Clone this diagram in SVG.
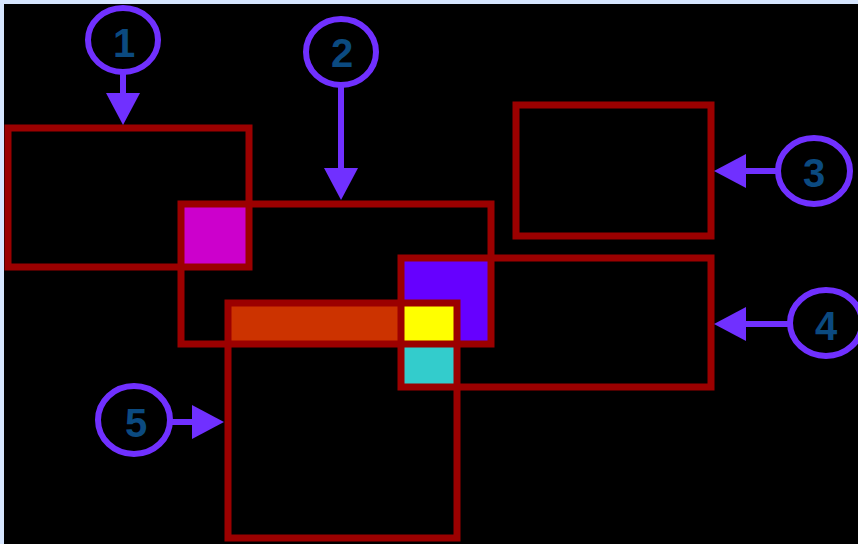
<svg xmlns="http://www.w3.org/2000/svg" width="858" height="544" viewBox="0 0 858 544">
<style>
.box{fill:none;stroke:#9b0000;stroke-width:7}
.ring{fill:none;stroke:#7030ff;stroke-width:6}
.num{font-family:"Liberation Sans",Arial,sans-serif;font-weight:bold;font-size:40px;fill:#0b4a80;text-anchor:middle}
.conn{stroke:#7030ff;stroke-width:6;fill:none;marker-end:url(#ah)}
</style>
<defs>
<marker id="ah" markerUnits="userSpaceOnUse" markerWidth="34" markerHeight="36" refX="0" refY="17" orient="auto" viewBox="0 0 34 36">
<path d="M0,0 L32,17 L0,34 z" fill="#7030ff"/>
</marker>
</defs>
<rect x="0" y="0" width="858" height="544" fill="#d6e6ff"/>
<rect x="4" y="4" width="854" height="540" fill="#000"/>
<g id="overlaps">
<rect x="181" y="204" width="68" height="63" fill="#cc00cc"/>
<rect x="401" y="258" width="90" height="86" fill="#6600ff"/>
<rect x="228" y="303" width="229" height="41" fill="#cc3300"/>
<rect x="401" y="303" width="56" height="41" fill="#ffff00"/>
<rect x="401" y="344" width="56" height="43" fill="#33cccc"/>
</g>
<g id="rect1"><rect class="box" x="8" y="128" width="241" height="139"/></g>
<g id="rect2"><rect class="box" x="181" y="204" width="310" height="140"/></g>
<g id="rect3"><rect class="box" x="516" y="105" width="195" height="131"/></g>
<g id="rect4"><rect class="box" x="401" y="258" width="310" height="129"/></g>
<g id="rect5"><rect class="box" x="228" y="303" width="229" height="235"/></g>
<g id="connectors">
<line class="conn" x1="123" y1="72" x2="123" y2="93"/>
<line class="conn" x1="341" y1="85" x2="341" y2="168"/>
<line class="conn" x1="778" y1="171" x2="746" y2="171"/>
<line class="conn" x1="790" y1="324" x2="746" y2="324"/>
<line class="conn" x1="170" y1="422" x2="192" y2="422"/>
</g>
<g id="label1"><ellipse class="ring" cx="123" cy="40" rx="35" ry="32"/><text class="num" x="124" y="57">1</text></g>
<g id="label2"><ellipse class="ring" cx="341" cy="52" rx="35" ry="33"/><text class="num" x="342" y="67">2</text></g>
<g id="label3"><ellipse class="ring" cx="814" cy="171" rx="36" ry="33"/><text class="num" x="814" y="187">3</text></g>
<g id="label4"><ellipse class="ring" cx="826" cy="323" rx="36" ry="33"/><text class="num" x="826" y="340">4</text></g>
<g id="label5"><ellipse class="ring" cx="134" cy="420" rx="36" ry="34"/><text class="num" x="136" y="437">5</text></g>
</svg>
